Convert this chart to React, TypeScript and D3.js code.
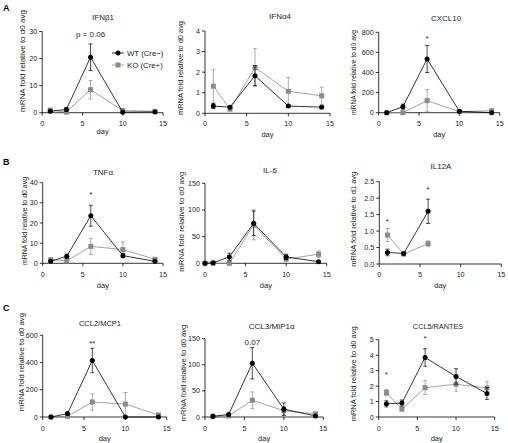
import React from "react";
import * as d3 from "d3";

// ---------- DATA ----------
const days5 = [1, 3, 6, 10, 14];
const daysIL6 = [0, 1, 3, 6, 10, 14];
const daysIL12 = [1, 3, 6];
const xTicks = [0, 5, 10, 15];

const ifnb1Wt = [0.5, 1.2, 20.5, 0.2, 0.3];
const ifnb1WtErr = [0.3, 0.6, 4.9, 0.2, 0.2];
const ifnb1Ko = [1.0, 0.2, 8.5, 0.8, 0.5];
const ifnb1KoErr = [0.5, 0.2, 3.4, 0.3, 0.3];

const ifna4Wt = [0.35, 0.3, 1.83, 0.35, 0.3];
const ifna4WtErr = [0.12, 0.05, 0.48, 0.05, 0.05];
const ifna4Ko = [1.32, 0.2, 2.22, 1.07, 0.85];
const ifna4KoErr = [0.8, 0.05, 0.92, 0.66, 0.42];

const cxcl10Wt = [0, 60, 535, 15, 0];
const cxcl10WtErr = [3, 25, 135, 5, 3];
const cxcl10Ko = [0, 0, 120, 10, 20];
const cxcl10KoErr = [2, 2, 110, 5, 5];

const tnfWt = [1.0, 3.5, 23.6, 3.8, 1.0];
const tnfWtErr = [0.4, 1.0, 5.2, 1.0, 0.3];
const tnfKo = [1.8, 1.2, 8.4, 6.8, 2.0];
const tnfKoErr = [0.5, 0.4, 4.0, 3.8, 0.5];

const il6Wt = [0, 1, 12, 75, 12, 3];
const il6WtErr = [1, 1, 7, 23, 5, 1];
const il6Ko = [0, 0, 0, 72, 8, 17];
const il6KoErr = [1, 1, 1, 28, 4, 6];

const il12Wt = [0.35, 0.32, 1.6];
const il12WtErr = [0.1, 0.03, 0.37];
const il12Ko = [0.88, 0.3, 0.62];
const il12KoErr = [0.2, 0.03, 0.08];

const ccl2Wt = [0, 25, 415, 0, 0];
const ccl2WtErr = [3, 10, 90, 3, 3];
const ccl2Ko = [0, 5, 110, 95, 15];
const ccl2KoErr = [2, 3, 60, 85, 5];

const ccl3Wt = [1, 5, 103, 15, 2];
const ccl3WtErr = [1, 2, 30, 12, 1];
const ccl3Ko = [2, 2, 32, 12, 6];
const ccl3KoErr = [1, 1, 16, 8, 2];

const ccl5Wt = [0.85, 0.9, 3.85, 2.62, 1.52];
const ccl5WtErr = [0.2, 0.2, 0.57, 0.5, 0.38];
const ccl5Ko = [1.58, 0.5, 1.9, 2.12, 1.88];
const ccl5KoErr = [0.2, 0.05, 0.45, 0.45, 0.4];

const titles = ["IFNβ1", "IFNα4", "CXCL10", "TNFα", "IL-6", "IL12A", "CCL2/MCP1", "CCL3/MIP1α", "CCL5/RANTES"];
const yLabels = [
  "mRNA fold relative to d0 avg", "mRNA fold relative to d0 avg", "mRNA fold relative to d0 avg",
  "mRNA fold relative to d0 avg", "mRNA fold relative to d0 avg", "mRNA fold relative to d1 avg",
  "mRNA fold relative to d0 avg", "mRNA fold relative to d0 avg", "mRNA fold relative to d0 avg",
];
const yMaxes = [30, 4, 800, 40, 150, 2.5, 600, 150, 5];
const yTickSteps = [10, 1, 200, 10, 50, 0.5, 200, 50, 1];
const annotations = [
  [{ day: 6, value: 27.8, text: "p = 0.06" }],
  [],
  [{ day: 6, value: 710, text: "*" }],
  [{ day: 6, value: 33, text: "*" }],
  [],
  [{ day: 1, value: 1.2, text: "*" }, { day: 6, value: 2.2, text: "*" }],
  [{ day: 6, value: 520, text: "**" }],
  [{ day: 6, value: 138, text: "0.07" }],
  [{ day: 1, value: 2.6, text: "*" }, { day: 6, value: 4.9, text: "*" }],
];
const panelLetters = ["A", "B", "C"];
const legendLabels = ["WT (Cre\u2212)", "KO (Cre+)"];

const panelData = [
  { days: days5, wt: ifnb1Wt, wtErr: ifnb1WtErr, ko: ifnb1Ko, koErr: ifnb1KoErr },
  { days: days5, wt: ifna4Wt, wtErr: ifna4WtErr, ko: ifna4Ko, koErr: ifna4KoErr },
  { days: days5, wt: cxcl10Wt, wtErr: cxcl10WtErr, ko: cxcl10Ko, koErr: cxcl10KoErr },
  { days: days5, wt: tnfWt, wtErr: tnfWtErr, ko: tnfKo, koErr: tnfKoErr },
  { days: daysIL6, wt: il6Wt, wtErr: il6WtErr, ko: il6Ko, koErr: il6KoErr },
  { days: daysIL12, wt: il12Wt, wtErr: il12WtErr, ko: il12Ko, koErr: il12KoErr },
  { days: days5, wt: ccl2Wt, wtErr: ccl2WtErr, ko: ccl2Ko, koErr: ccl2KoErr },
  { days: days5, wt: ccl3Wt, wtErr: ccl3WtErr, ko: ccl3Ko, koErr: ccl3KoErr },
  { days: days5, wt: ccl5Wt, wtErr: ccl5WtErr, ko: ccl5Ko, koErr: ccl5KoErr },
];

// ---------- LAYOUT ----------
const layout = [
  { x0: 42.2, x1: 163, yT: 31.5, yB: 112.7, titleX: 103, titleY: 20, titleFs: 8, labX: 23, labY0: 112, labY1: 10, xtY: 126, dayY: 133.5 },
  { x0: 205, x1: 330, yT: 31, yB: 113.3, titleX: 280, titleY: 18.5, titleFs: 8, labX: 180.5, labY0: 115, labY1: 21, xtY: 126, dayY: 137 },
  { x0: 378.7, x1: 499.7, yT: 32.3, yB: 112.7, titleX: 446, titleY: 21, titleFs: 8, labX: 353.5, labY0: 115, labY1: 30, xtY: 126, dayY: 137 },
  { x0: 42.7, x1: 163, yT: 182.7, yB: 263.3, titleX: 103, titleY: 174.5, titleFs: 8, labX: 25, labY0: 265, labY1: 177, xtY: 276.5, dayY: 287.5 },
  { x0: 205, x1: 326.7, yT: 183.3, yB: 263.3, titleX: 270, titleY: 172.5, titleFs: 8, labX: 182, labY0: 271.7, labY1: 171.7, xtY: 276.5, dayY: 287.5 },
  { x0: 379.3, x1: 501.3, yT: 181.7, yB: 264, titleX: 441, titleY: 168.5, titleFs: 8, labX: 354, labY0: 266.7, labY1: 171.7, xtY: 277, dayY: 287.5 },
  { x0: 42.7, x1: 166.7, yT: 335.3, yB: 417, titleX: 100, titleY: 325.5, titleFs: 7.5, labX: 22, labY0: 411.3, labY1: 313, xtY: 430.5, dayY: 440.5 },
  { x0: 205, x1: 323.3, yT: 338.7, yB: 417, titleX: 271.7, titleY: 328.5, titleFs: 8, labX: 183.5, labY0: 421.3, labY1: 324.7, xtY: 430.5, dayY: 440.5 },
  { x0: 378.7, x1: 494.7, yT: 339.7, yB: 417, titleX: 438, titleY: 328.5, titleFs: 7.3, labX: 353.5, labY0: 421.3, labY1: 326.3, xtY: 430.5, dayY: 440.5 },
];
const letterPos = [[3, 11], [3, 165], [3, 311]];

const WT_COLOR = "#000";
const KO_COLOR = "#8a8a8a";
const TXT = "#222";
const FONT = "Liberation Sans, Arial, sans-serif";

function Series({ days, vals, errs, x, y, color, square }: any) {
  const line = d3.line<number>().x((_, i) => x(days[i])).y((v) => y(v));
  return (
    <g>
      <path d={line(vals) || ""} fill="none" stroke={color} strokeWidth={0.8} />
      {vals.map((v: number, i: number) => {
        const cx = x(days[i]);
        const yt = y(v + errs[i]);
        const yb = y(Math.max(0, v - errs[i]));
        return (
          <g key={i}>
            <line x1={cx} x2={cx} y1={yt} y2={yb} stroke={color} strokeWidth={0.7} />
            <line x1={cx - 2} x2={cx + 2} y1={yt} y2={yt} stroke={color} strokeWidth={0.7} />
            <line x1={cx - 2} x2={cx + 2} y1={yb} y2={yb} stroke={color} strokeWidth={0.7} />
          </g>
        );
      })}
      {vals.map((v: number, i: number) =>
        square ? (
          <rect key={"m" + i} x={x(days[i]) - 2.5} y={y(v) - 2.5} width={5} height={5} fill={color} />
        ) : (
          <circle key={"m" + i} cx={x(days[i])} cy={y(v)} r={2.5} fill={color} />
        )
      )}
    </g>
  );
}

function Panel({ idx }: { idx: number }) {
  const L = layout[idx];
  const D = panelData[idx];
  const x = d3.scaleLinear().domain([0, 15]).range([L.x0, L.x1]);
  const y = d3.scaleLinear().domain([0, yMaxes[idx]]).range([L.yB, L.yT]);
  const yTicks = d3.range(0, yMaxes[idx] + yTickSteps[idx] / 2, yTickSteps[idx]);
  const fmt = yTickSteps[idx] < 1 ? d3.format(".1f") : d3.format("d");
  const labLen = L.labY0 - L.labY1;
  const labCy = (L.labY0 + L.labY1) / 2;
  return (
    <g fontFamily={FONT}>
      <text x={L.titleX} y={L.titleY} textAnchor="middle" fontSize={L.titleFs} fill={TXT}>{titles[idx]}</text>
      <line x1={L.x0} x2={L.x0} y1={L.yT} y2={L.yB} stroke="#000" strokeWidth={0.8} />
      <line x1={L.x0} x2={L.x1} y1={L.yB} y2={L.yB} stroke="#000" strokeWidth={0.8} />
      {yTicks.map((t) => (
        <g key={"y" + t}>
          <line x1={L.x0 - 3} x2={L.x0} y1={y(t)} y2={y(t)} stroke="#000" strokeWidth={0.8} />
          <text x={L.x0 - 5} y={y(t)} dy="0.35em" textAnchor="end" fontSize={7.2} fill={TXT}>{fmt(t)}</text>
        </g>
      ))}
      {xTicks.map((t) => (
        <g key={"x" + t}>
          <line x1={x(t)} x2={x(t)} y1={L.yB} y2={L.yB + 3} stroke="#000" strokeWidth={0.8} />
          <text x={x(t)} y={L.xtY} textAnchor="middle" fontSize={7.2} fill={TXT}>{t}</text>
        </g>
      ))}
      <text x={(L.x0 + L.x1) / 2} y={L.dayY} textAnchor="middle" fontSize={7.5} fill={TXT}>day</text>
      <text
        transform={`translate(${L.labX},${labCy}) rotate(-90)`}
        textAnchor="middle"
        dy="0.35em"
        fontSize={7}
        textLength={labLen}
        lengthAdjust="spacingAndGlyphs"
        fill={TXT}
      >
        {yLabels[idx]}
      </text>
      <Series days={D.days} vals={D.ko} errs={D.koErr} x={x} y={y} color={KO_COLOR} square />
      <Series days={D.days} vals={D.wt} errs={D.wtErr} x={x} y={y} color={WT_COLOR} />
      {annotations[idx].map((a, i) => (
        <text key={i} x={x(a.day)} y={y(a.value)} textAnchor="middle" fontSize={8} fill={TXT}>{a.text}</text>
      ))}
      {idx === 0 && (
        <g fontSize={7.8} fill={TXT}>
          <line x1={112} x2={124} y1={53} y2={53} stroke={WT_COLOR} strokeWidth={0.8} />
          <circle cx={118} cy={53} r={2.5} fill={WT_COLOR} />
          <text x={127} y={53} dy="0.35em">{legendLabels[0]}</text>
          <line x1={112} x2={124} y1={65} y2={65} stroke={KO_COLOR} strokeWidth={0.8} />
          <rect x={115.5} y={62.5} width={5} height={5} fill={KO_COLOR} />
          <text x={127} y={65} dy="0.35em">{legendLabels[1]}</text>
        </g>
      )}
    </g>
  );
}

export default function App() {
  return (
    <svg width={508} height={443} style={{ position: "absolute", left: 0, top: 0, background: "#fff" }}>
      <rect width={508} height={443} fill="#fff" />
      {panelLetters.map((l, i) => (
        <text key={l} x={letterPos[i][0]} y={letterPos[i][1]} fontFamily={FONT} fontWeight="bold" fontSize={9}>{l}</text>
      ))}
      {layout.map((_, i) => (
        <Panel key={i} idx={i} />
      ))}
    </svg>
  );
}
